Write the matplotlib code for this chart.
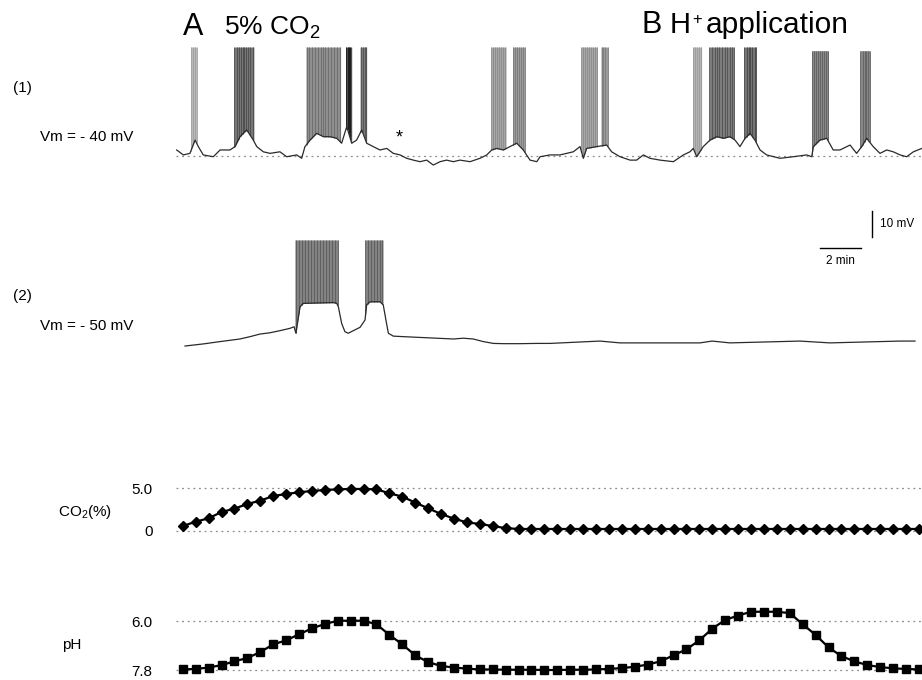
import numpy as np
import matplotlib
matplotlib.use("Agg")
import matplotlib.pyplot as plt

plt.rcParams['font.family'] = ['Liberation Sans', 'DejaVu Sans']

# ---- trace (1): membrane potential, time in min, Vm in mV
trace1_t = [0.03, 0.36, 0.68, 0.93, 1.09, 1.33, 1.82, 2.15, 2.63, 2.88,
            3.12, 3.45, 3.77, 3.94, 4.26, 4.59, 5.07, 5.40, 5.89, 6.13,
            6.29, 6.54, 6.86, 7.19, 7.51, 7.84, 8.08, 8.33, 8.57, 8.81,
            9.06, 9.30, 9.62, 9.95, 10.28, 10.60, 10.93, 11.25, 11.58, 11.90,
            12.23, 12.55, 12.88, 13.20, 13.53, 13.85, 14.34, 14.83, 15.16, 15.40,
            15.64, 15.97, 16.29, 16.62, 16.94, 17.27, 17.60, 17.76, 18.24, 18.73,
            19.38, 19.71, 19.87, 20.03, 20.52, 21.01, 21.25, 21.66, 22.15, 22.47,
            22.80, 23.12, 23.61, 24.26, 24.75, 25.07, 25.23, 25.40, 25.72, 26.05,
            26.38, 26.70, 27.02, 27.27, 27.51, 27.76, 28.00, 28.24, 28.49, 28.81,
            29.46, 30.11, 30.77, 31.01, 31.09, 31.41, 31.74, 32.06, 32.39, 32.88,
            33.20, 33.45, 33.69, 34.01, 34.34, 34.67, 34.99, 35.32, 35.64, 35.97,
            36.38]
trace1_v = [-37.8, -39.7, -39.1, -34.0, -36.5, -39.7, -40.4, -37.8, -37.8, -36.5,
            -32.7, -30.1, -34.0, -36.5, -38.5, -39.1, -38.5, -40.4, -39.7, -41.0,
            -36.5, -34.0, -31.4, -32.7, -32.7, -33.3, -35.2, -28.8, -35.2, -34.0,
            -30.1, -35.2, -36.5, -37.8, -37.2, -39.1, -39.7, -41.0, -41.7, -42.3,
            -41.7, -43.6, -42.3, -41.7, -42.3, -41.7, -42.3, -41.0, -39.7, -37.8,
            -37.2, -37.8, -36.5, -35.2, -37.8, -41.7, -42.3, -40.4, -39.7, -39.7,
            -38.5, -36.5, -41.0, -37.2, -36.5, -35.9, -38.5, -40.4, -41.7, -41.7,
            -39.7, -41.0, -41.7, -42.3, -39.7, -38.5, -37.2, -40.4, -36.5, -34.0,
            -32.7, -33.3, -32.7, -34.0, -36.5, -33.3, -31.4, -34.0, -37.8, -39.7,
            -41.0, -40.4, -39.7, -40.4, -36.5, -34.0, -33.3, -37.8, -37.8, -35.9,
            -39.1, -36.5, -33.3, -36.5, -39.1, -37.8, -38.5, -39.7, -40.4, -38.5,
            -37.2]

# bursts of trace (1): start, end, spike peak (mV), grey level, spike times
bursts1_start = [0.72, 2.83, 6.34, 8.28, 8.98, 15.37, 16.42, 19.76, 20.73, 25.20, 26.01, 27.71, 31.01, 33.37]
bursts1_end = [1.01, 3.80, 8.03, 8.57, 9.30, 16.10, 17.02, 20.55, 21.06, 25.64, 27.22, 28.29, 31.82, 33.85]
bursts1_peak = [1.8, 1.8, 1.8, 1.8, 1.8, 1.8, 1.8, 1.8, 1.8, 1.8, 1.8, 1.8, 0.4, 0.4]
bursts1_grey = ['#a0a0a0', '#4a4a4a', '#6a6a6a', '#151515', '#505050', '#8a8a8a', '#7a7a7a',
                '#8a8a8a', '#7a7a7a', '#9a9a9a', '#505050', '#454545', '#606060', '#606060']
spikes1 = [
    [0.73, 0.83, 0.93, 1.00],
    [2.85, 2.98, 3.07, 3.17, 3.27, 3.34, 3.41, 3.51, 3.61, 3.76],
    [6.37, 6.49, 6.63, 6.78, 6.93, 7.07, 7.15, 7.27, 7.41, 7.56, 7.71, 7.85, 8.00],
    [8.29, 8.37, 8.44, 8.51],
    [9.00, 9.10, 9.20, 9.27],
    [15.39, 15.46, 15.56, 15.66, 15.76, 15.85, 15.95, 16.07],
    [16.44, 16.54, 16.63, 16.73, 16.83, 16.93, 17.00],
    [19.78, 19.85, 19.95, 20.05, 20.15, 20.24, 20.34, 20.44, 20.54],
    [20.76, 20.85, 20.95, 21.05],
    [25.22, 25.32, 25.41, 25.51, 25.61],
    [26.02, 26.15, 26.27, 26.39, 26.51, 26.63, 26.76, 26.88, 27.00, 27.12, 27.22],
    [27.73, 27.83, 27.93, 28.02, 28.12, 28.22, 28.29],
    [31.02, 31.12, 31.22, 31.32, 31.41, 31.51, 31.61, 31.71, 31.80],
    [33.39, 33.49, 33.59, 33.68, 33.78, 33.85],
]

# ---- trace (2)
trace2_t = [0.44, 1.33, 2.15, 3.12, 3.61, 4.10, 4.59, 5.07, 5.56, 5.76,
            5.85, 6.05, 6.21, 7.67, 7.84, 7.92, 8.08, 8.24, 8.40, 8.65,
            8.98, 9.22, 9.30, 9.46, 9.95, 10.11, 10.24, 10.36, 10.60, 11.09,
            11.90, 12.72, 13.53, 14.01, 14.50, 14.99, 15.48, 15.97, 16.78, 17.60,
            18.24, 20.68, 21.66, 25.56, 26.15, 27.02, 30.44, 31.90, 35.32, 36.05]
trace2_v = [-50.0, -49.2, -48.3, -47.3, -46.4, -45.4, -44.9, -44.1, -43.2, -42.6,
            -45.1, -34.9, -33.6, -33.3, -33.6, -34.9, -41.3, -44.5, -45.1, -44.1,
            -42.8, -40.0, -34.2, -33.0, -33.0, -34.2, -40.0, -45.1, -46.2, -46.4,
            -46.7, -47.0, -47.3, -47.0, -47.3, -48.3, -49.0, -49.1, -49.1, -49.0,
            -49.0, -48.1, -48.8, -48.8, -48.1, -48.8, -48.1, -48.8, -48.1, -48.1]
bursts2_start = [5.80, 9.22]
bursts2_end = [7.90, 10.10]
bursts2_peak = [-9.2, -9.2]
spikes2 = [
    [5.85, 6.00, 6.15, 6.29, 6.44, 6.59, 6.73, 6.88, 7.02, 7.17, 7.32, 7.46, 7.61, 7.76, 7.88],
    [9.24, 9.37, 9.51, 9.66, 9.80, 9.95, 10.07],
]

# ---- perfusate CO2 (%) and pH, sampled every 0.63 min
sample_start = 0.33
sample_step = 0.63
co2_pct = [0.55, 1.06, 1.46, 2.20, 2.60, 3.15, 3.54, 4.09, 4.33, 4.53,
           4.69, 4.80, 4.88, 4.92, 4.92, 4.88, 4.41, 4.02, 3.31, 2.64,
           1.97, 1.42, 0.98, 0.79, 0.55, 0.30, 0.20, 0.20, 0.20, 0.20,
           0.20, 0.20, 0.20, 0.20, 0.20, 0.20, 0.20, 0.20, 0.20, 0.20,
           0.20, 0.20, 0.20, 0.20, 0.20, 0.20, 0.20, 0.20, 0.20, 0.20,
           0.20, 0.20, 0.20, 0.20, 0.20, 0.20, 0.20, 0.20]
ph = [7.78, 7.76, 7.71, 7.62, 7.48, 7.36, 7.14, 6.86, 6.71, 6.49,
      6.27, 6.11, 5.99, 5.99, 5.99, 6.12, 6.51, 6.86, 7.26, 7.51,
      7.65, 7.71, 7.75, 7.78, 7.78, 7.79, 7.79, 7.79, 7.80, 7.80,
      7.79, 7.79, 7.78, 7.76, 7.73, 7.68, 7.60, 7.48, 7.26, 7.04,
      6.71, 6.28, 5.96, 5.80, 5.66, 5.66, 5.66, 5.71, 6.12, 6.51,
      6.97, 7.29, 7.48, 7.62, 7.69, 7.74, 7.76, 7.78]
sample_t = sample_start + sample_step * np.arange(len(ph))

t_max = 36.39
W, H = 922, 680
fig = plt.figure(figsize=(W / 100, H / 100), dpi=100)


def px_axes(top, bottom):
    # axes spanning the trace columns between two pixel rows
    ax = fig.add_axes([176 / W, 1 - bottom / H, 1 - 176 / W, (bottom - top) / H])
    ax.set_xlim(0, t_max)
    for s in ax.spines.values():
        s.set_visible(False)
    ax.set_xticks([])
    ax.set_yticks([])
    ax.patch.set_alpha(0)
    return ax


def draw_bursts(ax, tt, vv, starts, ends, peaks, greys, spikes):
    tt = np.asarray(tt)
    vv = np.asarray(vv)
    for t0, t1, pk, g, sp in zip(starts, ends, peaks, greys, spikes):
        inside = tt[(tt > t0) & (tt < t1)]
        xs = np.concatenate([[t0], inside, [t1]])
        ys = np.interp(xs, tt, vv)
        ax.fill_between(xs, ys, pk, color=g, alpha=0.75, lw=0)
        sp = np.asarray(sp)
        ax.vlines(sp, np.interp(sp, tt, vv), pk, color=g, lw=0.6)


dots = dict(color='#8c8c8c', lw=0.9, ls=(0, (1.5, 3)))

# trace (1)
ax1 = px_axes(40, 170)
ax1.set_ylim(-45.5, 4.5)
ax1.axhline(-40, **dots)
draw_bursts(ax1, trace1_t, trace1_v, bursts1_start, bursts1_end, bursts1_peak,
            bursts1_grey, spikes1)
ax1.plot(trace1_t, trace1_v, color='#2a2a2a', lw=0.9)
ax1.text(10.88, -33.0, '*', fontsize=13, ha='center', va='center')

# trace (2)
ax2 = px_axes(200, 360)
ax2.set_ylim(-55.38, 6.15)
draw_bursts(ax2, trace2_t, trace2_v, bursts2_start, bursts2_end, bursts2_peak,
            ['#5a5a5a', '#5a5a5a'], spikes2)
ax2.plot(trace2_t, trace2_v, color='#2a2a2a', lw=0.9)
# scale bars
ax2.plot([33.95, 33.95], [-8.0, 2.0], color='k', lw=1.0, clip_on=False)
ax2.text(34.34, -3.2, '10 mV', fontsize=8.5, va='center', ha='left')
ax2.plot([31.41, 33.41], [-12.3, -12.3], color='k', lw=1.0)
ax2.text(32.41, -17.2, '2 min', fontsize=8.5, va='center', ha='center')

# CO2
ax3 = px_axes(470, 560)
ax3.set_ylim(-3.46, 7.16)
ax3.axhline(5.0, **dots)
ax3.axhline(0.0, **dots)
ax3.plot(sample_t, co2_pct, color='k', lw=1.6, marker='D', ms=5.5, mec='k', mfc='k')
ax3.set_yticks([0, 5.0])
ax3.set_yticklabels(['0', '5.0'], fontsize=11)
ax3.tick_params(axis='y', length=0, pad=17)

# pH
ax4 = px_axes(590, 680)
ax4.set_ylim(8.167, 4.861)
ax4.axhline(6.0, **dots)
ax4.axhline(7.8, **dots)
ax4.plot(sample_t, ph, color='k', lw=1.6, marker='s', ms=6, mec='k', mfc='k')
ax4.set_yticks([6.0, 7.8])
ax4.set_yticklabels(['6.0', '7.8'], fontsize=11)
ax4.tick_params(axis='y', length=0, pad=17)


def ftext(x, y, s, **kw):
    fig.text(x / W, 1 - y / H, s, **kw)


ftext(183, 35, 'A', fontsize=22, va='baseline')
ftext(224, 35, r'5% CO$\mathregular{_2}$', fontsize=19, va='baseline')
ftext(641, 33, 'B', fontsize=22, va='baseline')
ftext(670, 33, 'H', fontsize=21, va='baseline')
ftext(692, 24, '+', fontsize=12, va='baseline')
ftext(706, 33, 'application', fontsize=21.5, va='baseline')

ftext(13, 88, '(1)', fontsize=11, va='center')
ftext(40, 137, 'Vm = - 40 mV', fontsize=11, va='center')
ftext(13, 296, '(2)', fontsize=11, va='center')
ftext(40, 326, 'Vm = - 50 mV', fontsize=11, va='center')
ftext(58, 512, r'CO$\mathregular{_2}$(%)', fontsize=11, va='center')
ftext(62, 645, 'pH', fontsize=11, va='center')

fig.savefig('out.png', dpi=100)
